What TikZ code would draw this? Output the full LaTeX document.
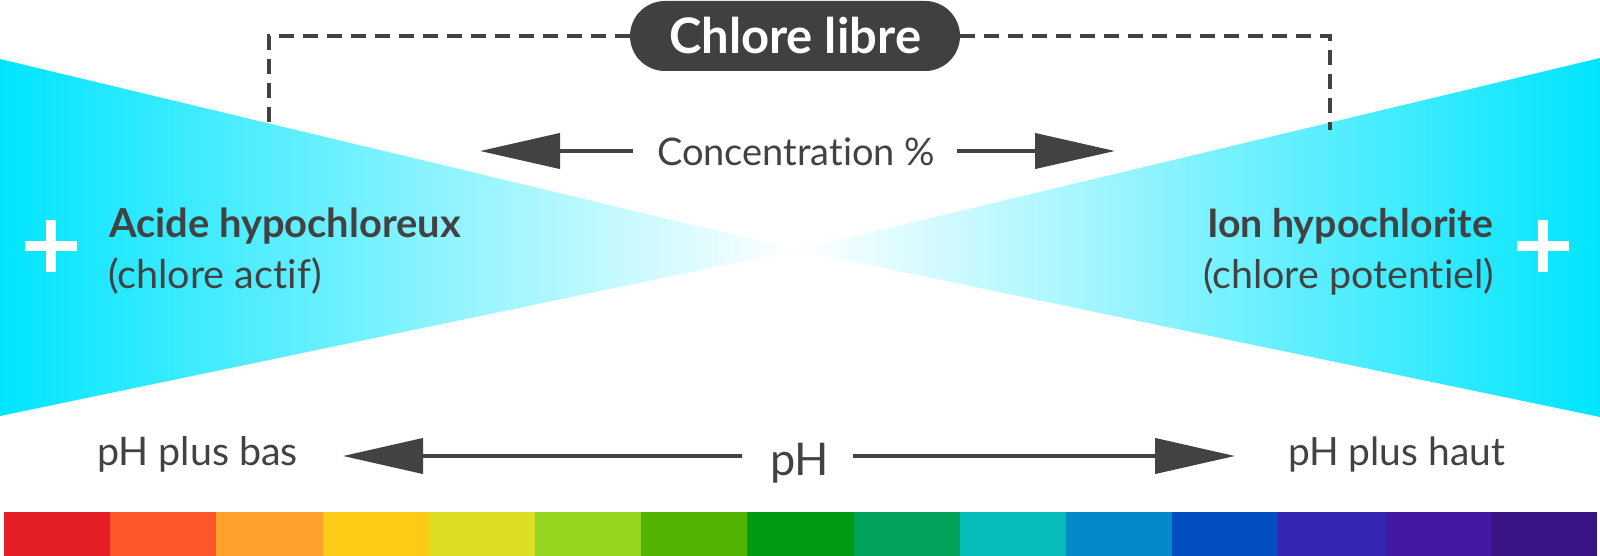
\documentclass[tikz,border=0pt]{standalone}
\usepackage{fontspec}
\setmainfont{Lato}[Ligatures=NoCommon]
\usetikzlibrary{arrows.meta}
\definecolor{dk}{HTML}{424242}
\definecolor{pillc}{HTML}{404040}
\definecolor{cy}{HTML}{00E5FF}
\definecolor{c1}{HTML}{E41E26}
\definecolor{c2}{HTML}{FF5628}
\definecolor{c3}{HTML}{FFA12B}
\definecolor{c4}{HTML}{FFCB17}
\definecolor{c5}{HTML}{DCDE24}
\definecolor{c6}{HTML}{95D51F}
\definecolor{c7}{HTML}{51B402}
\definecolor{c8}{HTML}{009912}
\definecolor{c9}{HTML}{01A25A}
\definecolor{c10}{HTML}{05BDB8}
\definecolor{c11}{HTML}{048ACA}
\definecolor{c12}{HTML}{044EC3}
\definecolor{c13}{HTML}{3527B2}
\definecolor{c14}{HTML}{4318A3}
\definecolor{c15}{HTML}{391487}
\newcommand\fitt[2]{\resizebox{#1pt}{!}{#2}}
\begin{document}
\begin{tikzpicture}[x=1pt,y=-1pt,
  lbl/.style={inner sep=0pt, outer sep=0pt, text=dk, font=\fontsize{40}{48}\selectfont},
  blbl/.style={lbl, font=\fontsize{40}{48}\selectfont\bfseries},
  pill/.style={fill=pillc, text=white, rounded corners=35pt, minimum width=330pt,
    minimum height=70pt, inner sep=0pt, outer sep=0pt, font=\fontsize{40}{48}\selectfont\bfseries},
  dashline/.style={draw=dk, line width=3.5pt, dash pattern=on 15pt off 9pt},
  arr/.style={draw=dk, line width=4pt, -{Triangle[length=80pt,width=35pt]}},
  plusbar/.style={fill=white}
]
\useasboundingbox (0,0) rectangle (1600,556);

% wedges
\shade[left color=cy, right color=white] (0,59) -- (797,250) -- (0,416) -- cycle;
\shade[left color=white, right color=cy] (1600,58) -- (797,250) -- (1600,417) -- cycle;

% plus signs
\foreach \cx in {51,1543} {
  \fill[plusbar] (\cx-26,241) rectangle (\cx+26,251);
  \fill[plusbar] (\cx-5,220) rectangle (\cx+5,272);
}

% top label and dashed brackets
\node[pill] (cl) at (795,36) {\fitt{252}{Chlore libre}};
\coordinate (dl1) at (269,36);
\coordinate (dl2) at (269,130);
\coordinate (dr1) at (1330,36);
\coordinate (dr2) at (1330,130);
\draw[dashline] (cl.west) -- (dl1) -- (dl2);
\draw[dashline] (cl.east) -- (dr1) -- (dr2);

% concentration
\node[lbl, anchor=base west] (conc) at (657,166) {\fitt{278}{Concentration \%}};
\coordinate (cLs) at (633,151);
\coordinate (cLt) at (480,151);
\coordinate (cRs) at (957,151);
\coordinate (cRt) at (1115,151);
\draw[arr] (cLs) -- (cLt);
\draw[arr] (cRs) -- (cRt);

% side labels
\node[blbl, anchor=base west] (acide) at (109,237) {\fitt{352}{Acide hypochloreux}};
\node[lbl, anchor=base west] (actif) at (108,288) {\fitt{214}{(chlore actif)}};
\node[blbl, anchor=base east] (ion) at (1493,237) {\fitt{286}{Ion hypochlorite}};
\node[lbl, anchor=base east] (pot) at (1494,288) {\fitt{291}{(chlore potentiel)}};

% pH axis
\node[lbl, anchor=base west] (bas) at (97,465) {\fitt{201}{pH plus bas}};
\node[lbl, anchor=base east] (haut) at (1505,465) {\fitt{217}{pH plus haut}};
\node[lbl, anchor=base] (ph) at (799.5,475) {\fitt{59}{pH}};
\coordinate (pLs) at (742,456);
\coordinate (pLt) at (343,456);
\coordinate (pRs) at (853,456);
\coordinate (pRt) at (1235,456);
\draw[arr] (pLs) -- (pLt);
\draw[arr] (pRs) -- (pRt);

% colour bar
\foreach \i in {1,...,15} {
  \fill[c\i] ({4+106.2*(\i-1)},512) rectangle ({4+106.2*\i+0.3},556);
}
\end{tikzpicture}
\end{document}
